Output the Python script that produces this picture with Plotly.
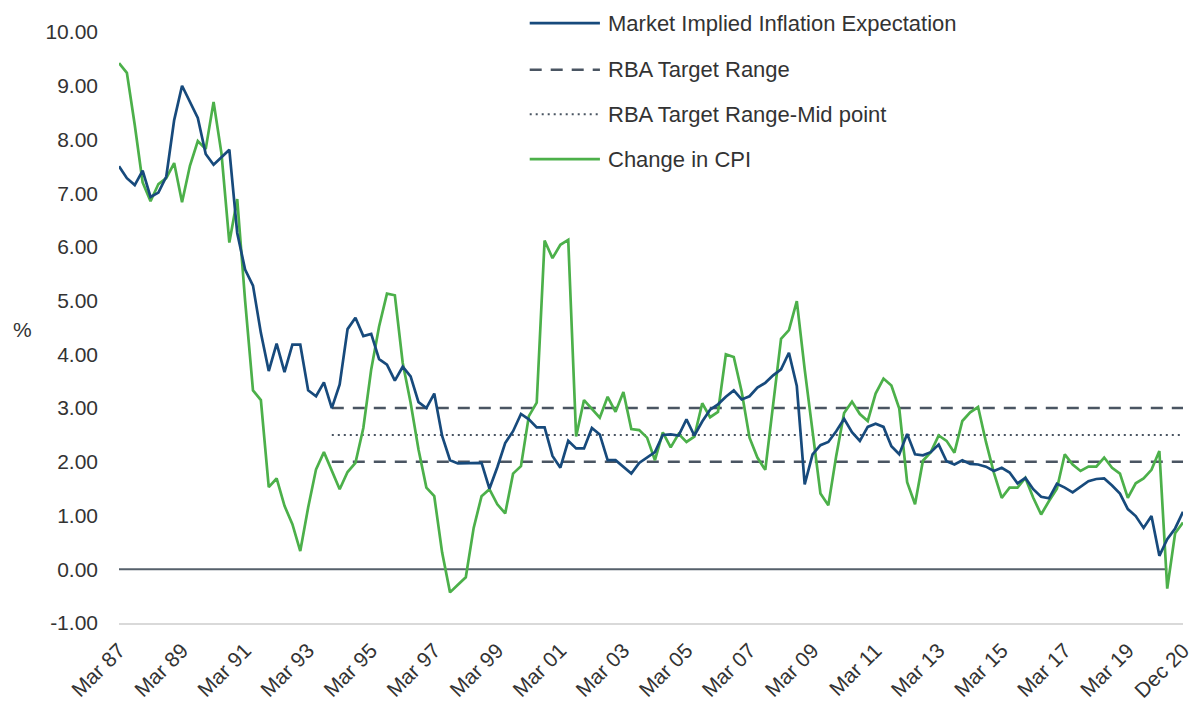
import plotly.graph_objs as go

# quarterly labels Mar 87 .. Dec 20
months = ['Mar', 'Jun', 'Sep', 'Dec']
years = list(range(1987, 2021))
quarters = ['%s %02d' % (m, y % 100) for y in years for m in months]

tick_labels = ['Mar %02d' % (y % 100) for y in range(1987, 2020, 2)] + ['Dec 20']
y_ticks = [-1, 0, 1, 2, 3, 4, 5, 6, 7, 8, 9, 10]
y_tick_text = ['-1.00', '0.00', '1.00', '2.00', '3.00', '4.00', '5.00',
               '6.00', '7.00', '8.00', '9.00', '10.00']

market_implied = [
    7.50, 7.28, 7.15, 7.42, 6.93, 7.01, 7.31, 8.36, 9.00, 8.69, 8.40, 7.73,
    7.53, 7.67, 7.81, 6.26, 5.58, 5.28, 4.40, 3.69, 4.20, 3.67, 4.18, 4.18,
    3.33, 3.22, 3.48, 3.00, 3.44, 4.47, 4.68, 4.34, 4.38, 3.91, 3.81, 3.51,
    3.77, 3.59, 3.11, 3.00, 3.27, 2.48, 2.03, 1.97, 1.97, 1.97, 1.98, 1.50,
    1.90, 2.35, 2.57, 2.89, 2.79, 2.64, 2.64, 2.11, 1.89, 2.39, 2.25, 2.25,
    2.63, 2.51, 2.03, 2.03, 1.91, 1.78, 1.98, 2.08, 2.18, 2.50, 2.51, 2.49,
    2.79, 2.49, 2.75, 2.97, 3.07, 3.21, 3.33, 3.16, 3.22, 3.38, 3.47, 3.61,
    3.72, 4.03, 3.41, 1.58, 2.14, 2.31, 2.37, 2.57, 2.80, 2.55, 2.39, 2.65,
    2.71, 2.65, 2.29, 2.14, 2.52, 2.14, 2.12, 2.18, 2.32, 2.01, 1.95, 2.03,
    1.96, 1.95, 1.91, 1.83, 1.89, 1.80, 1.60, 1.70, 1.49, 1.35, 1.32, 1.59,
    1.52, 1.43, 1.54, 1.64, 1.68, 1.69, 1.56, 1.41, 1.12, 0.99, 0.77, 0.99,
    0.25, 0.56, 0.76, 1.07,
]

cpi_change = [
    9.42, 9.24, 8.27, 7.20, 6.85, 7.17, 7.28, 7.56, 6.83, 7.51, 7.97, 7.82,
    8.70, 7.74, 6.08, 6.89, 5.00, 3.33, 3.15, 1.53, 1.69, 1.18, 0.84, 0.34,
    1.15, 1.86, 2.18, 1.83, 1.49, 1.81, 1.98, 2.63, 3.72, 4.52, 5.13, 5.10,
    3.84, 3.10, 2.23, 1.52, 1.36, 0.31, -0.43, -0.29, -0.15, 0.77, 1.36, 1.49,
    1.21, 1.04, 1.78, 1.92, 2.85, 3.10, 6.12, 5.79, 6.04, 6.13, 2.47, 3.15,
    2.99, 2.82, 3.21, 2.93, 3.30, 2.61, 2.59, 2.45, 2.03, 2.55, 2.27, 2.52,
    2.37, 2.47, 3.09, 2.83, 2.93, 4.00, 3.95, 3.31, 2.45, 2.08, 1.85, 3.04,
    4.29, 4.45, 4.99, 3.72, 2.57, 1.41, 1.19, 2.11, 2.91, 3.12, 2.89, 2.76,
    3.27, 3.55, 3.42, 2.99, 1.62, 1.21, 2.02, 2.18, 2.49, 2.39, 2.17, 2.76,
    2.92, 3.02, 2.37, 1.80, 1.33, 1.52, 1.52, 1.70, 1.33, 1.02, 1.27, 1.50,
    2.14, 1.95, 1.83, 1.91, 1.91, 2.08, 1.89, 1.78, 1.33, 1.60, 1.69, 1.85,
    2.20, -0.36, 0.67, 0.87,
]

# RBA target band starts Dec 93, zero line runs to Jun 20
target_start = quarters.index('Dec 93')
zero_end = quarters.index('Jun 20')
target_low, target_high, target_mid = 2.0, 3.0, 2.5

n = len(quarters)
rba_low = [None] * target_start + [target_low] * (n - target_start)
rba_high = [None] * target_start + [target_high] * (n - target_start)
rba_mid = [None] * target_start + [target_mid] * (n - target_start)
zero_line = [0.0] * (zero_end + 1) + [None] * (n - zero_end - 1)

BLUE = '#174a7c'
GREEN = '#4cb04a'
SLATE = '#4a5562'
TXT = '#333333'
FONT = 'Arial, Liberation Sans, sans-serif'

fig = go.Figure()
fig.add_trace(go.Scatter(x=quarters, y=zero_line, mode='lines',
                         line=dict(color='#56606b', width=2), showlegend=False))
fig.add_trace(go.Scatter(x=quarters, y=rba_high, mode='lines',
                         line=dict(color=SLATE, width=2.5, dash='12px,9px'), showlegend=False))
fig.add_trace(go.Scatter(x=quarters, y=rba_low, mode='lines',
                         line=dict(color=SLATE, width=2.5, dash='12px,9px'), showlegend=False))
fig.add_trace(go.Scatter(x=quarters, y=rba_mid, mode='lines',
                         line=dict(color=SLATE, width=2, dash='2px,4px'), showlegend=False))
fig.add_trace(go.Scatter(x=quarters, y=cpi_change, mode='lines',
                         line=dict(color=GREEN, width=2.7), showlegend=False))
fig.add_trace(go.Scatter(x=quarters, y=market_implied, mode='lines',
                         line=dict(color=BLUE, width=2.7), showlegend=False))

# hand-drawn legend (long line samples like the original)
legend_items = [
    ('Market Implied Inflation Expectation', BLUE, 2.7, 'solid'),
    ('RBA Target Range', SLATE, 2.5, '12px,9px'),
    ('RBA Target Range-Mid point', SLATE, 2, '2px,4px'),
    ('Change in CPI', GREEN, 2.7, 'solid'),
]
legend_y = [1.015, 0.936, 0.861, 0.785]
for (name, col, w, dash), ly in zip(legend_items, legend_y):
    fig.add_shape(type='line', xref='paper', yref='paper', x0=0.386, x1=0.452, y0=ly, y1=ly,
                  line=dict(color=col, width=w, dash=dash))
    fig.add_annotation(text=name, xref='paper', yref='paper', x=0.458, y=ly,
                       xanchor='left', yanchor='middle', showarrow=False,
                       font=dict(size=22, color=TXT, family=FONT))

fig.add_annotation(text='%', xref='paper', yref='paper', x=-0.091, y=0.496,
                   xanchor='center', yanchor='middle', showarrow=False,
                   font=dict(size=21, color=TXT, family=FONT))

fig.update_xaxes(type='category', range=[0, n - 1], tickmode='array',
                 tickvals=tick_labels, ticktext=tick_labels, tickangle=-45,
                 showgrid=False, zeroline=False, showline=True, linecolor='#d9d9d9', linewidth=2,
                 ticks='', ticklabelstandoff=5,
                 tickfont=dict(size=21, color=TXT, family=FONT), automargin=False)
fig.update_yaxes(range=[-1, 10], tickmode='array', tickvals=y_ticks, ticktext=y_tick_text,
                 showgrid=False, zeroline=False, showline=False, ticks='', ticklabelstandoff=20,
                 tickfont=dict(size=21, color=TXT, family=FONT), automargin=False)

fig.update_layout(width=1196, height=702, margin=dict(l=119, r=13, t=32, b=79),
                  paper_bgcolor='white', plot_bgcolor='white', showlegend=False,
                  font=dict(family=FONT))

fig.write_html("out.html", config={'displayModeBar': False},
               post_script="document.body.style.margin='0';document.body.style.overflow='hidden';")
